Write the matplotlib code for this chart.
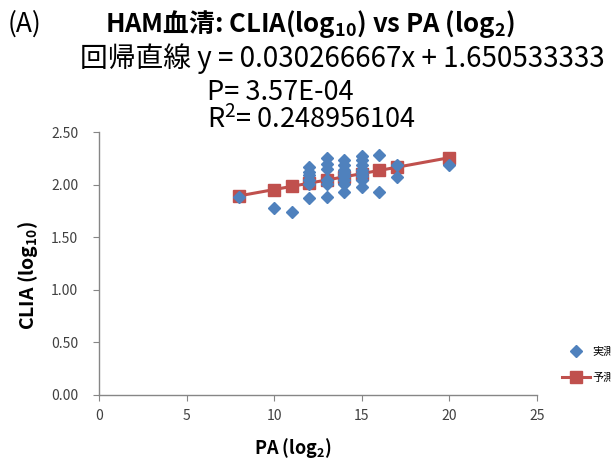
import matplotlib
matplotlib.use("Agg")
import matplotlib.pyplot as plt

plt.rcParams['font.family'] = ['Noto Sans CJK JP', 'DejaVu Sans']
plt.rcParams['mathtext.default'] = 'regular'

# observed values (PA log2, CLIA log10)
pa_obs = [8, 10, 11,
          12, 12, 12, 12, 12, 12,
          13, 13, 13, 13, 13, 13,
          14, 14, 14, 14, 14, 14, 14, 14,
          15, 15, 15, 15, 15, 15, 15, 15,
          16, 16, 17, 17, 20]
clia_obs = [1.88, 1.78, 1.74,
            2.17, 2.12, 2.09, 2.04, 2.01, 1.87,
            2.25, 2.20, 2.15, 2.04, 2.01, 1.88,
            2.23, 2.19, 2.14, 2.11, 2.08, 2.04, 2.01, 1.93,
            2.27, 2.23, 2.19, 2.14, 2.11, 2.08, 2.04, 1.98,
            2.28, 1.93, 2.19, 2.07, 2.19]

# predicted values on the regression line
pa_pred = [8, 10, 11, 12, 13, 14, 15, 16, 17, 20]
clia_pred = [1.893, 1.953, 1.983, 2.014, 2.044, 2.074, 2.104, 2.135, 2.165, 2.256]

x_ticks = [0, 5, 10, 15, 20, 25]
y_ticks = [0.00, 0.50, 1.00, 1.50, 2.00, 2.50]

blue = '#4F81BD'
red = '#C0504D'
grey = '#868686'

W, H = 611, 459
fig = plt.figure(figsize=(W / 100, H / 100), dpi=100)
ax = fig.add_axes([99 / W, 64 / H, 438 / W, 263 / H])

ax.plot(pa_obs, clia_obs, linestyle='none', marker='D', ms=6.5,
        color=blue, label='実測値', zorder=3)
ax.plot(pa_pred, clia_pred, color=red, lw=2.2, marker='s', ms=8,
        label='予測値', zorder=2)

ax.set_xlim(0, 25)
ax.set_ylim(0, 2.5)
ax.set_xticks(x_ticks)
ax.set_yticks(y_ticks)
ax.set_yticklabels(['%.2f' % v for v in y_ticks])

for s in ['top', 'right']:
    ax.spines[s].set_visible(False)
for s in ['left', 'bottom']:
    ax.spines[s].set_color(grey)
    ax.spines[s].set_linewidth(1.0)
ax.tick_params(colors=grey, labelcolor='#404040', length=4, labelsize=10)
ax.tick_params(axis='y', pad=11)
ax.tick_params(axis='x', pad=6)

ax.set_xlabel('PA (log$_2$)', fontsize=13, fontweight='bold')
ax.set_ylabel('CLIA (log$_{10}$)', fontsize=14, fontweight='bold')
ax.xaxis.label.set_va('center')
ax.yaxis.label.set_va('center')
ax.xaxis.set_label_coords((293 - 99) / 438, (395 - 448) / 263)
ax.yaxis.set_label_coords((28 - 99) / 438, (395 - 275) / 263)

fig.legend(loc='upper left', bbox_to_anchor=(562 / W, 1 - 347 / H),
           frameon=False, fontsize=8, handlelength=2.5, labelspacing=1.4,
           borderaxespad=0, borderpad=0, handletextpad=0.2)

# heading and regression summary
fig.text(8 / W, 1 - 32 / H, '(A)', fontsize=19, va='baseline')
fig.text(105 / W, 1 - 32 / H, 'HAM血清: CLIA(log$_{10}$) vs PA (log$_2$)',
         fontsize=18.5, fontweight='bold', va='baseline')
fig.text(80 / W, 1 - 67 / H, '回帰直線 y = 0.030266667x + 1.650533333',
         fontsize=20, va='baseline')
fig.text(207 / W, 1 - 100 / H, 'P= 3.57E-04', fontsize=19.5, va='baseline')
fig.text(207 / W, 1 - 128 / H, 'R$^2$= 0.248956104', fontsize=19.5, va='baseline')

fig.savefig('out.png', dpi=100)
